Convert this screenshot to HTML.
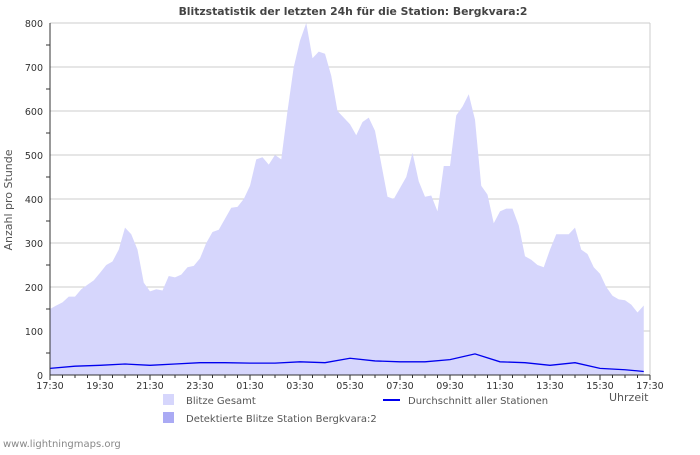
<!DOCTYPE html>
<html><head><meta charset="utf-8"><style>
body{margin:0;background:#fff;width:700px;height:450px;overflow:hidden;font-family:"Liberation Sans",sans-serif}
</style></head><body>
<svg id="c" width="700" height="450" font-family="DejaVu Sans, Liberation Sans, sans-serif">
<text x="353" y="15" text-anchor="middle" font-size="10.8" font-weight="bold" fill="#444">Blitzstatistik der letzten 24h für die Station: Bergkvara:2</text>
<g id="grid"></g>
<g id="marks"></g>
<g id="axes"></g>
<text transform="translate(12,200) rotate(-90)" text-anchor="middle" font-size="11" fill="#555">Anzahl pro Stunde</text>
<text x="609" y="401" font-size="11" fill="#555">Uhrzeit</text>
<rect x="163" y="394" width="11" height="11" fill="#d6d6fc"/>
<text x="186" y="404" font-size="10" fill="#555">Blitze Gesamt</text>
<rect x="163" y="412" width="11" height="11" fill="#aaaaf4"/>
<text x="186" y="422" font-size="10" fill="#555">Detektierte Blitze Station Bergkvara:2</text>
<line x1="383" y1="400" x2="400" y2="400" stroke="#0000ee" stroke-width="2"/>
<text x="408" y="404" font-size="10" fill="#555">Durchschnitt aller Stationen</text>
<text x="3" y="447" font-size="10" fill="#888">www.lightningmaps.org</text>
</svg>
<script>
const totalValues=[150,158,165,178,178,195,205,215,232,250,258,285,335,320,285,210,190,195,192,225,222,228,245,248,265,300,325,330,355,380,382,400,430,490,495,478,500,490,600,700,760,800,720,735,730,680,600,585,570,545,575,585,555,480,405,400,425,450,505,440,405,408,372,475,475,590,610,638,580,430,410,345,372,378,378,340,270,262,250,245,285,320,320,320,335,285,275,245,230,200,180,172,170,160,142,158];
const avgHours=[0,1,2,3,4,5,6,7,8,9,10,11,12,13,14,15,16,17,18,19,20,21,22,23,23.75];
const avgValues=[15,20,22,25,22,25,28,28,27,27,30,28,38,32,30,30,35,48,30,28,22,28,15,12,8];
const yTicks=[0,100,200,300,400,500,600,700,800];
const xTickLabels=["17:30","19:30","21:30","23:30","01:30","03:30","05:30","07:30","09:30","11:30","13:30","15:30","17:30"];
const NS="http://www.w3.org/2000/svg";
const X0=50,X1=650,Y0=375,Y1=23;
const xs=h=>X0+(X1-X0)*h/24;
const ys=v=>Y0-(Y0-Y1)*v/800;
function mk(t,a,p){const e=document.createElementNS(NS,t);for(const k in a)e.setAttribute(k,a[k]);p.appendChild(e);return e;}
const grid=document.getElementById('grid'),marks=document.getElementById('marks'),axes=document.getElementById('axes');
yTicks.forEach(v=>{
 const l=mk('line',{x1:X0,x2:X1,y1:ys(v),y2:ys(v),stroke:'#ccc','stroke-width':1},grid);
 
 
 const t=mk('text',{x:X0-7,y:ys(v)+4,'text-anchor':'end','font-size':9.5,fill:'#333'},axes);
 t.textContent=v;
 
 
});
for(let v=50;v<800;v+=100){mk('line',{x1:X0-4,x2:X0,y1:ys(v),y2:ys(v),stroke:'#333'},axes);}
mk('line',{x1:X1,x2:X1,y1:Y1,y2:Y0,stroke:'#ccc'},grid);
let d='M'+xs(0)+','+Y0;
totalValues.forEach((v,i)=>{d+=' L'+xs(i*0.25)+','+ys(v);});
d+=' L'+xs((totalValues.length-1)*0.25)+','+Y0+' Z';
const area=mk('path',{d:d,fill:'#d6d6fc'},marks);


let ld='';
avgValues.forEach((v,i)=>{ld+=(i?' L':'M')+xs(avgHours[i])+','+ys(v);});
const line=mk('path',{d:ld,fill:'none',stroke:'#0000ee','stroke-width':1.3},marks);


mk('line',{x1:X0,x2:X0,y1:Y1,y2:Y0,stroke:'#333'},axes);
mk('line',{x1:X0,x2:X1,y1:Y0,y2:Y0,stroke:'#333'},axes);
for(let h=0;h<=24;h+=0.5){mk('line',{x1:xs(h),x2:xs(h),y1:Y0,y2:Y0+(h%2===0?5:3),stroke:'#333'},axes);}
xTickLabels.forEach((s,i)=>{
 const t=mk('text',{x:xs(i*2),y:Y0+14,'text-anchor':'middle','font-size':9.5,fill:'#333'},axes);
 t.textContent=s;
 
 
});
</script>
</body></html>
